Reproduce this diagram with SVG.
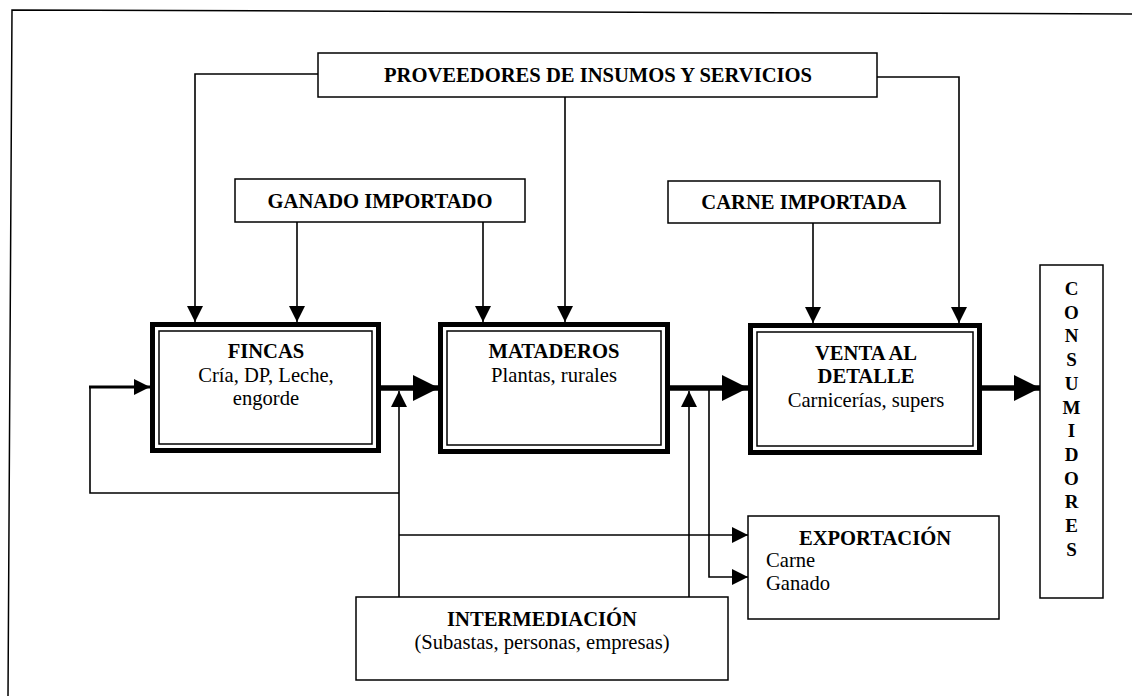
<svg xmlns="http://www.w3.org/2000/svg" width="1132" height="696" viewBox="0 0 1132 696">
<defs>
<style>
text{font-family:"Liberation Serif","Times New Roman",serif;fill:#000;font-size:20.6px}
.b{font-weight:bold}
.c{text-anchor:middle}
.box{fill:#fff;stroke:#000;stroke-width:1.5}
.thick{fill:none;stroke:#000;stroke-width:5}
.thin{fill:none;stroke:#000;stroke-width:1.5}
.ln{fill:none;stroke:#000;stroke-width:1.6}
.fat{fill:none;stroke:#000;stroke-width:5.5}
.v{font-size:19px;font-weight:bold;text-anchor:middle}
</style>
<marker id="sa" markerUnits="userSpaceOnUse" viewBox="0 0 16 16" refX="16" refY="8" markerWidth="16" markerHeight="16" orient="auto"><path d="M0,0 L16,8 L0,16 z" fill="#000"/></marker>
<marker id="la" markerUnits="userSpaceOnUse" viewBox="0 0 26 26" refX="26" refY="13" markerWidth="26" markerHeight="26" orient="auto"><path d="M0,0 L26,13 L0,26 z" fill="#000"/></marker>
</defs>
<rect width="1132" height="696" fill="#fff"/>
<path d="M1132,14 L12,10 L8,696" fill="none" stroke="#000" stroke-width="1.5"/>

<g id="connectors">
<path class="ln" d="M318,74 H195 V322" marker-end="url(#sa)"/>
<path class="ln" d="M297,222 V322" marker-end="url(#sa)"/>
<path class="ln" d="M483,222 V322" marker-end="url(#sa)"/>
<path class="ln" d="M565,97 V322" marker-end="url(#sa)"/>
<path class="ln" d="M813,223 V323" marker-end="url(#sa)"/>
<path class="ln" d="M877,77 H959 V323" marker-end="url(#sa)"/>
<path class="fat" d="M381,388 H439" marker-end="url(#la)"/>
<path class="fat" d="M670,388 H748" marker-end="url(#la)"/>
<path class="fat" d="M982,388 H1040" marker-end="url(#la)"/>
<path class="ln" d="M399,597 V391" marker-end="url(#sa)"/>
<path class="ln" d="M689,597 V391" marker-end="url(#sa)"/>
<path class="ln" d="M399,493 H90 V387"/>
<path fill="none" stroke="#000" stroke-width="3" d="M89,387 H150" marker-end="url(#sa)"/>
<path class="ln" d="M399,535 H748" marker-end="url(#sa)"/>
<path class="ln" d="M709,389 V577 H748" marker-end="url(#sa)"/>
</g>

<g id="proveedores">
<rect class="box" x="318" y="53" width="559" height="44"/>
<text class="b c" x="598" y="82">PROVEEDORES DE INSUMOS Y SERVICIOS</text>
</g>

<g id="ganado-importado">
<rect class="box" x="235" y="179" width="290" height="43"/>
<text class="b c" x="380" y="208">GANADO IMPORTADO</text>
</g>

<g id="carne-importada">
<rect class="box" x="668" y="181" width="272" height="42"/>
<text class="b c" x="804" y="209">CARNE IMPORTADA</text>
</g>

<g id="fincas">
<rect class="thick" x="152.5" y="324.5" width="226" height="126"/>
<rect class="thin" x="159" y="331" width="213" height="113"/>
<text class="b c" x="266" y="358">FINCAS</text>
<text class="c" x="266" y="382">Cría, DP, Leche,</text>
<text class="c" x="266" y="405">engorde</text>
</g>

<g id="mataderos">
<rect class="thick" x="440.5" y="324.5" width="227" height="127"/>
<rect class="thin" x="447" y="331" width="214" height="114"/>
<text class="b c" x="554" y="358">MATADEROS</text>
<text class="c" x="554" y="382">Plantas, rurales</text>
</g>

<g id="venta">
<rect class="thick" x="750.5" y="325.5" width="229" height="127"/>
<rect class="thin" x="757" y="332" width="216" height="114"/>
<text class="b c" x="866" y="360">VENTA AL</text>
<text class="b c" x="866" y="383">DETALLE</text>
<text class="c" x="866" y="407">Carnicerías, supers</text>
</g>

<g id="consumidores">
<rect class="box" x="1040" y="265" width="63" height="333"/>
<text class="v" x="1071.5" y="295">C</text>
<text class="v" x="1071.5" y="318.7">O</text>
<text class="v" x="1071.5" y="342.4">N</text>
<text class="v" x="1071.5" y="366.1">S</text>
<text class="v" x="1071.5" y="389.8">U</text>
<text class="v" x="1071.5" y="413.5">M</text>
<text class="v" x="1071.5" y="437.2">I</text>
<text class="v" x="1071.5" y="460.9">D</text>
<text class="v" x="1071.5" y="484.6">O</text>
<text class="v" x="1071.5" y="508.3">R</text>
<text class="v" x="1071.5" y="532">E</text>
<text class="v" x="1071.5" y="555.7">S</text>
</g>

<g id="exportacion">
<rect class="box" x="748" y="516" width="251" height="103"/>
<text class="b c" x="875" y="545">EXPORTACIÓN</text>
<text x="766" y="567">Carne</text>
<text x="766" y="590">Ganado</text>
</g>

<g id="intermediacion">
<rect class="box" x="356" y="597" width="372" height="83"/>
<text class="b c" x="542" y="626">INTERMEDIACIÓN</text>
<text class="c" x="542" y="649">(Subastas, personas, empresas)</text>
</g>
</svg>
